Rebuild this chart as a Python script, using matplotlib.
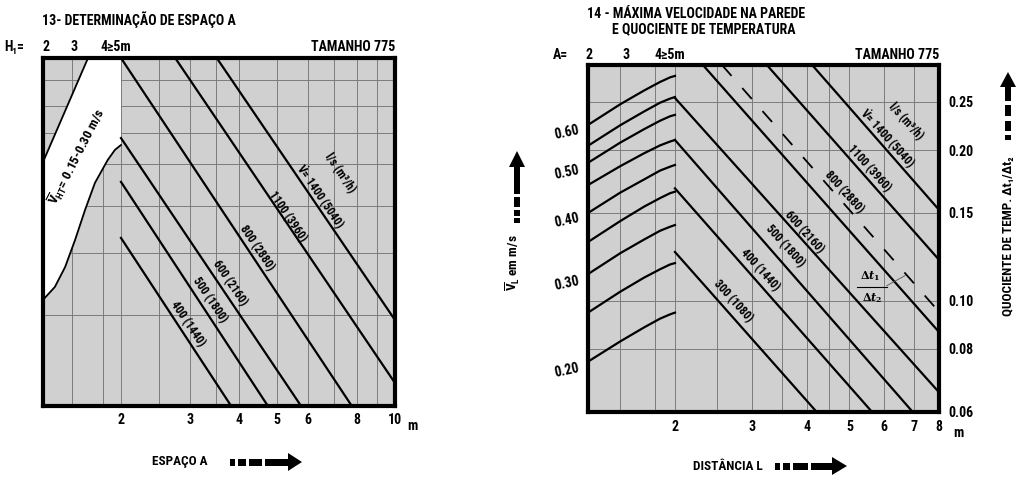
import matplotlib
matplotlib.use('Agg')
import matplotlib.pyplot as plt
from matplotlib.patches import Rectangle, Polygon
from matplotlib.ticker import NullLocator, NullFormatter, FixedLocator, FixedFormatter

FONT = ['Roboto Condensed', 'DejaVu Sans']
plt.rcParams['font.family'] = FONT
plt.rcParams['font.weight'] = 'bold'
plt.rcParams['mathtext.fontset'] = 'custom'
plt.rcParams['mathtext.rm'] = 'Roboto Condensed:bold'
plt.rcParams['mathtext.bf'] = 'Roboto Condensed:bold'
plt.rcParams['mathtext.it'] = 'Roboto Condensed:bold'

GRAY = '#d0d0d0'
GRID = '#7c7c7c'

# ---------------- Chart 13 : Determinação de espaço A ----------------
c13_xlim = (1.265, 10)
c13_ylim = (0, 100)                      # relative height (no scale printed)
c13_xticks = [2, 3, 4, 5, 6, 8, 10]
c13_xticklabels = ['2', '3', '4', '5', '6', '8', '10']
c13_xgrid = [1.5, 1.8, 2, 2.5, 3, 3.5, 4, 5, 6, 7, 8, 9]
c13_ygrid = [26.1, 44.0, 57.5, 69.5, 78.4, 86.2, 93.7]
c13_labels = ['400 (1440)', '500 (1800)', '600 (2160)', '800 (2880)',
              '1100 (3960)', r'$\dot{\mathbf{V}}$= 1400 (5040)']
c13_line_x = [[2.0, 3.82], [2.0, 4.74], [2.0, 5.76], [2.0, 7.76], [2.75, 10.0], [3.51, 10.0]]
c13_line_y = [[48.3, 0.0], [64.4, 0.0], [77.0, 0.0], [100.0, 0.0], [100.0, 6.6], [100.0, 24.7]]
c13_label_x = [2.96, 3.37, 3.79, 4.44, 5.33, 6.43]
c13_label_y = [23.6, 30.5, 35.3, 45.4, 54.6, 60.1]
c13_unit_x, c13_unit_y = 7.24, 67.0
zone_curve_x = [2.0, 1.93, 1.85, 1.716, 1.619, 1.527, 1.44, 1.356, 1.265]
zone_curve_y = [75.0, 73.6, 70.7, 64.1, 56.3, 47.7, 39.9, 34.2, 30.5]
zone_edge_x = [1.265, 1.648]
zone_edge_y = [70.1, 100.0]
zone_text_x, zone_text_y = 1.54, 71.6

# ---------------- Chart 14 : Máxima velocidade / quociente ----------------
c14_xlim = (1.267, 8)
c14_vlim = (0.1625, 0.8056)
q_factor = 2.717                          # V_L / (Δt1/Δt2) scale ratio
c14_xticks = [2, 3, 4, 5, 6, 7, 8]
c14_xgrid = [1.5, 1.8, 2, 2.5, 3, 3.5, 4, 4.5, 5, 6, 7]
c14_vticks = [0.2, 0.3, 0.4, 0.5, 0.6]
c14_vticklabels = ['0.20', '0.30', '0.40', '0.50', '0.60']
c14_qticks = [0.06, 0.08, 0.10, 0.15, 0.20, 0.25]
c14_qticklabels = ['0.06', '0.08', '0.10', '0.15', '0.20', '0.25']
c14_qgrid = [0.08, 0.10, 0.15, 0.20, 0.25]
rise_x = [1.267, 1.5, 1.7, 1.85, 1.95, 2.0]
rise_v = [
    [0.611, 0.672, 0.716, 0.745, 0.761, 0.766],
    [0.555, 0.610, 0.650, 0.677, 0.690, 0.695],
    [0.513, 0.563, 0.599, 0.623, 0.636, 0.640],
    [0.463, 0.505, 0.536, 0.556, 0.566, 0.570],
    [0.407, 0.447, 0.475, 0.495, 0.504, 0.508],
    [0.356, 0.392, 0.419, 0.436, 0.446, 0.449],
    [0.307, 0.338, 0.360, 0.375, 0.382, 0.385],
    [0.257, 0.283, 0.302, 0.314, 0.321, 0.323],
    [0.205, 0.225, 0.240, 0.250, 0.255, 0.257],
]
c14_labels = ['300 (1080)', '400 (1440)', '500 (1800)', '600 (2160)', '800 (2880)',
              '1100 (3960)', r'$\dot{\mathbf{V}}$= 1400 (5040)']
c14_line_x = [[2.0, 4.21], [2.0, 5.63], [2.0, 6.97], [2.0, 8.0], [2.316, 8.0], [3.24, 8.0], [4.11, 8.0]]
c14_line_v = [[0.340, 0.1625], [0.456, 0.1625], [0.570, 0.1625], [0.692, 0.178],
              [0.8056, 0.235], [0.8056, 0.328], [0.8056, 0.413]]
c14_label_x = [2.71, 3.12, 3.56, 3.94, 4.86, 5.54, 6.09]
c14_label_v = [0.271, 0.313, 0.350, 0.373, 0.448, 0.501, 0.573]
c14_unit_x, c14_unit_v = 6.73, 0.622
dash_x = [2.56, 8.0]
dash_v = [0.8056, 0.258]

FW, FH = 1024, 482
fig = plt.figure(figsize=(FW / 100, FH / 100), dpi=100)


def px_axes(x0, y0, x1, y1):
    return fig.add_axes([x0 / FW, 1 - y1 / FH, (x1 - x0) / FW, (y1 - y0) / FH])


def style_frame(ax):
    for s in ax.spines.values():
        s.set_linewidth(3.0)
        s.set_color('black')
    ax.tick_params(length=0)


LBL = 8.5

# ================= Chart 13 =================
ax1 = px_axes(43, 58, 395, 406)
ax1.set_xscale('log')
ax1.set_xlim(c13_xlim)
ax1.set_ylim(c13_ylim)
ax1.set_facecolor(GRAY)
for xv in c13_xgrid:
    ax1.axvline(xv, color=GRID, lw=0.7, zorder=1)
for yv in c13_ygrid:
    ax1.axhline(yv, color=GRID, lw=0.7, zorder=1)
poly_x = [zone_edge_x[1], zone_curve_x[0]] + zone_curve_x + [zone_edge_x[0]]
poly_y = [zone_edge_y[1], zone_edge_y[1]] + zone_curve_y + [zone_edge_y[0]]
ax1.fill(poly_x, poly_y, color='white', lw=0, zorder=2)
ax1.plot(zone_curve_x, zone_curve_y, color='black', lw=1.3, zorder=3)
ax1.plot(zone_edge_x, zone_edge_y, color='black', lw=1.3, zorder=3)
for xs, ys in zip(c13_line_x, c13_line_y):
    ax1.plot(xs, ys, color='black', lw=1.6, zorder=4)
for lx, ly, lab in zip(c13_label_x, c13_label_y, c13_labels):
    ax1.text(lx, ly, lab, rotation=-56, ha='center', va='center',
             rotation_mode='anchor', fontsize=LBL, fontweight='bold', zorder=5)
ax1.text(c13_unit_x, c13_unit_y, 'l/s (m³/h)', rotation=-56, ha='center', va='center',
         rotation_mode='anchor', fontsize=LBL, fontweight='bold', zorder=5)
ax1.text(zone_text_x, zone_text_y, r'$\overline{\mathbf{V}}_{\mathbf{HT}}$= 0.15-0.30 m/s',
         rotation=63, ha='center', va='center', rotation_mode='anchor',
         fontsize=9.5, fontweight='bold', zorder=5)
ax1.xaxis.set_major_locator(FixedLocator(c13_xticks))
ax1.xaxis.set_major_formatter(FixedFormatter(c13_xticklabels))
ax1.xaxis.set_minor_locator(NullLocator())
ax1.xaxis.set_minor_formatter(NullFormatter())
ax1.set_yticks([])
style_frame(ax1)
ax1.tick_params(axis='x', pad=5, labelsize=10)
ax1.text(1.0 + 17 / 352, -0.036, 'm', transform=ax1.transAxes, ha='center', va='top',
         fontsize=10, fontweight='bold')

# ================= Chart 14 =================
ax2 = px_axes(588, 65, 939, 412)
ax2.set_xscale('log')
ax2.set_yscale('log')
ax2.set_xlim(c14_xlim)
ax2.set_ylim(c14_vlim)
ax2.set_facecolor(GRAY)
for xv in c14_xgrid:
    ax2.axvline(xv, color=GRID, lw=0.7, zorder=1)
for qv in c14_qgrid:
    ax2.axhline(qv * q_factor, color=GRID, lw=0.7, zorder=1)
for vs in rise_v:
    ax2.plot(rise_x, vs, color='black', lw=1.6, zorder=4)
for xs, vs in zip(c14_line_x, c14_line_v):
    ax2.plot(xs, vs, color='black', lw=1.6, zorder=4)
ax2.plot(dash_x, dash_v, color='black', lw=1.3, ls=(0, (8, 9)), zorder=4)
for lx, lv, lab in zip(c14_label_x, c14_label_v, c14_labels):
    ax2.text(lx, lv, lab, rotation=-48, ha='center', va='center',
             rotation_mode='anchor', fontsize=LBL, fontweight='bold', zorder=5)
ax2.text(c14_unit_x, c14_unit_v, 'l/s (m³/h)', rotation=-48, ha='center', va='center',
         rotation_mode='anchor', fontsize=LBL, fontweight='bold', zorder=5)
# Δt1/Δt2 fraction with leader
ax2.text(5.57, 0.304, r'$\Delta t_1$', ha='center', va='center', fontsize=8,
         math_fontfamily='dejavuserif', zorder=5)
ax2.text(5.63, 0.275, r'$\Delta t_2$', ha='center', va='center', fontsize=8,
         math_fontfamily='dejavuserif', zorder=5)
ax2.plot([5.21, 6.08], [0.289, 0.289], color='black', lw=0.8, zorder=5)
ax2.plot([6.08, 6.70], [0.291, 0.305], color='#555555', lw=0.6, zorder=5)

ax2.xaxis.set_major_locator(FixedLocator(c14_xticks))
ax2.xaxis.set_major_formatter(FixedFormatter([str(v) for v in c14_xticks]))
ax2.xaxis.set_minor_locator(NullLocator())
ax2.xaxis.set_minor_formatter(NullFormatter())
ax2.yaxis.set_major_locator(FixedLocator(c14_vticks))
ax2.yaxis.set_major_formatter(FixedFormatter(c14_vticklabels))
ax2.yaxis.set_minor_locator(NullLocator())
ax2.yaxis.set_minor_formatter(NullFormatter())
style_frame(ax2)
ax2.tick_params(axis='x', pad=6, labelsize=10)
ax2.tick_params(axis='y', pad=5, labelsize=10)
for t in ax2.get_yticklabels():
    t.set_rotation(12)
ax2.text(1.0 + 19 / 351, -0.04, 'm', transform=ax2.transAxes, ha='center', va='top',
         fontsize=10, fontweight='bold')

ax2r = ax2.twinx()
ax2r.set_yscale('log')
ax2r.set_ylim(c14_vlim[0] / q_factor, c14_vlim[1] / q_factor)
ax2r.yaxis.set_major_locator(FixedLocator(c14_qticks))
ax2r.yaxis.set_major_formatter(FixedFormatter(c14_qticklabels))
ax2r.yaxis.set_minor_locator(NullLocator())
ax2r.yaxis.set_minor_formatter(NullFormatter())
for s in ax2r.spines.values():
    s.set_visible(False)
ax2r.tick_params(length=0, pad=7, labelsize=10)

# ================= overlay (titles, headers, arrows) =================
ov = fig.add_axes([0, 0, 1, 1])
ov.set_xlim(0, FW)
ov.set_ylim(FH, 0)
ov.axis('off')
ov.patch.set_visible(False)

kw = dict(fontweight='bold', va='center')
TS = 10
ov.text(42, 20, '13- DETERMINAÇÃO DE ESPAÇO A', ha='left', fontsize=TS, **kw)
ov.text(4, 47, 'H₁=', ha='left', fontsize=TS, **kw)
ov.text(46, 47, '2', ha='center', fontsize=TS, **kw)
ov.text(74.5, 47, '3', ha='center', fontsize=TS, **kw)
ov.text(116, 47, '4≥5m', ha='center', fontsize=TS, **kw)
ov.text(395, 47, 'TAMANHO 775', ha='right', fontsize=TS, **kw)
ov.text(180, 462, 'ESPAÇO A', ha='center', fontsize=9.5, **kw)

ov.text(587, 14.5, '14 - MÁXIMA VELOCIDADE NA PAREDE', ha='left', fontsize=TS, **kw)
ov.text(612, 29.5, 'E QUOCIENTE DE TEMPERATURA', ha='left', fontsize=TS, **kw)
ov.text(560, 55, 'A=', ha='center', fontsize=TS, **kw)
ov.text(589, 55, '2', ha='center', fontsize=TS, **kw)
ov.text(626, 55, '3', ha='center', fontsize=TS, **kw)
ov.text(670, 55, '4≥5m', ha='center', fontsize=TS, **kw)
ov.text(939, 55, 'TAMANHO 775', ha='right', fontsize=TS, **kw)
ov.text(728, 466, 'DISTÂNCIA L', ha='center', fontsize=9.5, **kw)
ov.text(513, 263, r'$\overline{\mathbf{V}}_{\mathbf{L}}$ em m/s', ha='center', rotation=90,
        fontsize=9.5, **kw)
ov.text(1009, 236, 'QUOCIENTE DE TEMP. Δt₁/Δt₂', ha='center', rotation=90,
        fontsize=9.5, **kw)


def h_arrow(y, segs, head0, head1, bar_h=7, head_h=18):
    for a, b in segs:
        ov.add_patch(Rectangle((a, y - bar_h / 2), b - a, bar_h, color='black', lw=0))
    ov.add_patch(Polygon([[head0, y - head_h / 2], [head1, y], [head0, y + head_h / 2]],
                         closed=True, color='black', lw=0))


def v_arrow(x, segs, head0, head1, bar_w=6, head_w=16):
    for a, b in segs:
        ov.add_patch(Rectangle((x - bar_w / 2, a), bar_w, b - a, color='black', lw=0))
    ov.add_patch(Polygon([[x - head_w / 2, head0], [x, head1], [x + head_w / 2, head0]],
                         closed=True, color='black', lw=0))


h_arrow(462, [(230, 235), (238, 246), (249, 262), (265, 289)], 288, 302)
h_arrow(466, [(775, 780), (783, 790), (793, 808), (811, 833)], 832, 847)
v_arrow(517, [(218, 223), (210, 216), (197, 207), (166, 194)], 167, 151)
v_arrow(1008, [(135, 140), (121, 131), (105, 116), (86, 101)], 87, 72)

fig.savefig('out.png', dpi=100, facecolor='white')
